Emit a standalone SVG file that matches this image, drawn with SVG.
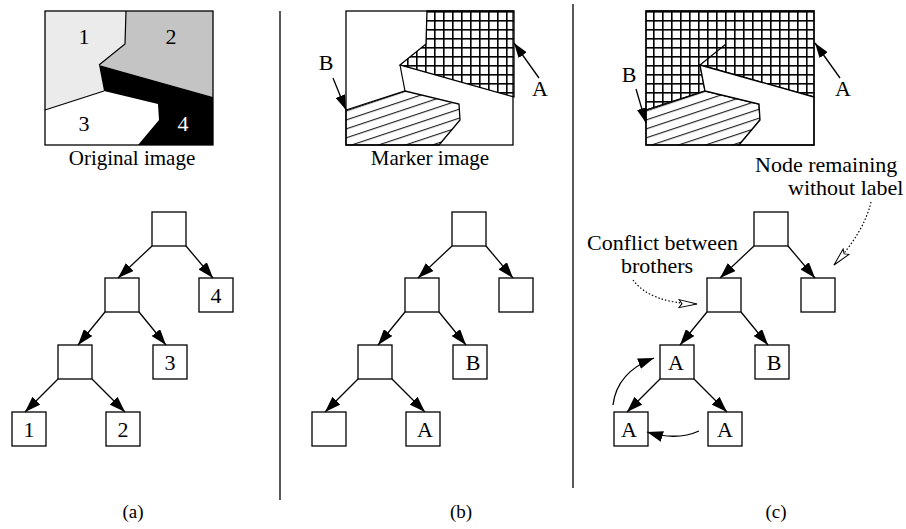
<svg xmlns="http://www.w3.org/2000/svg" width="906" height="529" viewBox="0 0 906 529">
  <style>
    .lbl { font-family: "Liberation Serif", "Times New Roman", serif; font-size: 22px; fill: #000; }
    .mid { text-anchor: middle; }
    .cap { font-family: "Liberation Serif", "Times New Roman", serif; font-size: 21px; fill: #000; text-anchor: middle; }
    .sub { font-family: "Liberation Serif", "Times New Roman", serif; font-size: 19px; fill: #000; text-anchor: middle; }
    .box { fill: #fff; stroke: #000; stroke-width: 1.3; }
    .edge { fill: none; stroke: #000; stroke-width: 1.3; marker-end: url(#head); }
    .pointer { fill: none; stroke: #000; stroke-width: 1.3; marker-end: url(#headSmall); }
    .dotted { fill: none; stroke: #000; stroke-width: 1.2; stroke-dasharray: 1.5 2; marker-end: url(#openHead); }
    .outline { fill: none; stroke: #000; stroke-width: 1.3; }
    .seg { fill: none; stroke: #000; stroke-width: 1.2; }
    .divider { stroke: #000; stroke-width: 1.3; }
  </style>
  <defs>
    <marker id="head" viewBox="0 0 16 11" refX="16" refY="5.5" markerWidth="16" markerHeight="11" markerUnits="userSpaceOnUse" orient="auto">
      <path d="M0,0 L16,5.5 L0,11 z" fill="#000"/>
    </marker>
    <marker id="headSmall" viewBox="0 0 15 10" refX="15" refY="5" markerWidth="15" markerHeight="10" markerUnits="userSpaceOnUse" orient="auto">
      <path d="M0,0 L15,5 L0,10 z" fill="#000"/>
    </marker>
    <marker id="openHead" viewBox="0 0 20 10" refX="19" refY="5" markerWidth="20" markerHeight="10" markerUnits="userSpaceOnUse" orient="auto">
      <path d="M1,1 L19,5 L1,9 L4,5 z" fill="#fff" stroke="#000" stroke-width="1"/>
    </marker>
    <!-- square mesh used for label A (pixel-aligned bars) -->
    <pattern id="grid" x="7" y="2" width="9" height="9" patternUnits="userSpaceOnUse">
      <rect width="9" height="9" fill="#fff"/>
      <rect x="0" y="0" width="9" height="1.6" fill="#000"/>
      <rect x="0" y="0" width="1.6" height="9" fill="#000"/>
    </pattern>
    <!-- diagonal hatching used for label B -->
    <pattern id="hatch" width="20" height="8.5" patternUnits="userSpaceOnUse" patternTransform="rotate(-18.4)">
      <rect width="20" height="8.5" fill="#fff"/>
      <path d="M0,0.6 H20" stroke="#000" stroke-width="1"/>
    </pattern>
    <!-- region shapes shared by the three image panels -->
    <polygon id="reg1" points="45,11 126,11 125,44 99,65 104,91 45,110"/>
    <polygon id="reg2" points="126,11 213,11 213,97 99,65 125,44"/>
    <polygon id="reg3" points="45,110 104,91 158,104 159,120 138,145 45,145"/>
    <polygon id="reg4" points="99,65 213,97 213,145 138,145 159,120 158,104 104,91"/>
  </defs>

  <!-- panel separators -->
  <line class="divider" x1="280" y1="11" x2="280" y2="500"/>
  <line class="divider" x1="573" y1="4" x2="573" y2="488"/>

  <!-- (a) original image -->
  <g id="original-image">
    <use href="#reg1" fill="#ebebeb"/>
    <use href="#reg2" fill="#c4c4c4"/>
    <use href="#reg3" fill="#fff"/>
    <use href="#reg4" fill="#000"/>
    <polyline class="seg" points="126,11 125,44 99,65"/>
    <line class="seg" x1="45" y1="110" x2="104" y2="91"/>
    <rect class="outline" x="45" y="11" width="168" height="134"/>
    <text class="lbl mid" x="84" y="44">1</text>
    <text class="lbl mid" x="171" y="44">2</text>
    <text class="lbl mid" x="84" y="131">3</text>
    <text class="lbl mid" x="183" y="131" style="fill:#fff">4</text>
    <text class="cap" x="132" y="165">Original image</text>
  </g>

  <!-- (b) marker image -->
  <g id="marker-image">
    <g transform="translate(301,0)">
      <rect x="45" y="11" width="168" height="134" fill="#fff"/>
      <use href="#reg2" fill="url(#grid)" stroke="#000" stroke-width="1.3"/>
      <use href="#reg3" fill="url(#hatch)" stroke="#000" stroke-width="1.3"/>
      <line class="seg" x1="99" y1="65" x2="104" y2="91"/>
      <rect class="outline" x="45" y="11" width="167" height="134"/>
    </g>
    <text class="cap" x="430" y="165">Marker image</text>
    <text class="lbl mid" x="326" y="70">B</text>
    <line class="pointer" x1="333" y1="78" x2="346" y2="110"/>
    <text class="lbl mid" x="540" y="96">A</text>
    <line class="pointer" x1="539" y1="78" x2="514" y2="43"/>
  </g>

  <!-- (c) labelled image -->
  <g id="result-image">
    <g transform="translate(601,0)">
      <rect x="45" y="11" width="168" height="134" fill="#fff"/>
      <polygon points="45,11 213,11 213,97 99,65 104,91 45,110" fill="url(#grid)" stroke="#000" stroke-width="1.3"/>
      <use href="#reg3" fill="url(#hatch)" stroke="#000" stroke-width="1.3"/>
      <use href="#reg4" fill="#fff" stroke="#000" stroke-width="1.3"/>
      <line class="seg" x1="99" y1="65" x2="125" y2="44"/>
      <rect class="outline" x="45" y="11" width="168" height="134"/>
    </g>
    <text class="lbl mid" x="629" y="82">B</text>
    <line class="pointer" x1="636" y1="89" x2="646" y2="123"/>
    <text class="lbl mid" x="843" y="96">A</text>
    <line class="pointer" x1="840" y1="78" x2="815" y2="43"/>
  </g>

  <!-- (a) tree -->
  <g id="tree-a">
    <g id="a-root"><rect class="box" x="152" y="212" width="34" height="34"/></g>
    <g id="a-n1"><rect class="box" x="105" y="278" width="34" height="34"/></g>
    <g id="a-n4"><rect class="box" x="199" y="278" width="34" height="34"/><text class="lbl mid" x="216" y="303">4</text></g>
    <g id="a-n2"><rect class="box" x="58" y="345" width="34" height="34"/></g>
    <g id="a-n3"><rect class="box" x="153" y="345" width="34" height="34"/><text class="lbl mid" x="170" y="370">3</text></g>
    <g id="a-l1"><rect class="box" x="12" y="412" width="34" height="34"/><text class="lbl mid" x="29" y="437">1</text></g>
    <g id="a-l2"><rect class="box" x="106" y="412" width="34" height="34"/><text class="lbl mid" x="123" y="437">2</text></g>
  </g>

  <!-- (b) tree -->
  <g id="tree-b">
    <g id="b-root"><rect class="box" x="452" y="212" width="34" height="34"/></g>
    <g id="b-n1"><rect class="box" x="405" y="278" width="34" height="34"/></g>
    <g id="b-n4"><rect class="box" x="499" y="278" width="34" height="34"/></g>
    <g id="b-n2"><rect class="box" x="358" y="345" width="34" height="34"/></g>
    <g id="b-n3"><rect class="box" x="453" y="345" width="34" height="34"/><text class="lbl mid" x="473" y="370">B</text></g>
    <g id="b-l1"><rect class="box" x="312" y="412" width="34" height="34"/></g>
    <g id="b-l2"><rect class="box" x="406" y="412" width="34" height="34"/><text class="lbl mid" x="425" y="437">A</text></g>
  </g>

  <!-- (c) tree -->
  <g id="tree-c">
    <g id="c-root"><rect class="box" x="754" y="212" width="34" height="34"/></g>
    <g id="c-n1"><rect class="box" x="707" y="278" width="34" height="34"/></g>
    <g id="c-n4"><rect class="box" x="801" y="278" width="34" height="34"/></g>
    <g id="c-n2"><rect class="box" x="660" y="345" width="34" height="34"/><text class="lbl mid" x="676" y="370">A</text></g>
    <g id="c-n3"><rect class="box" x="755" y="345" width="34" height="34"/><text class="lbl mid" x="774" y="370">B</text></g>
    <g id="c-l1"><rect class="box" x="614" y="412" width="34" height="34"/><text class="lbl mid" x="629" y="437">A</text></g>
    <g id="c-l2"><rect class="box" x="708" y="412" width="34" height="34"/><text class="lbl mid" x="725" y="437">A</text></g>
  </g>

  <!-- annotations -->
  <g id="note-unlabelled">
    <text class="lbl" x="755" y="172">Node remaining</text>
    <text class="lbl" x="788" y="195">without label</text>
  </g>
  <g id="note-conflict">
    <text class="lbl" x="587" y="250">Conflict between</text>
    <text class="lbl" x="621" y="273">brothers</text>
  </g>

  <!-- connectors -->
  <g id="connectors">
    <line class="edge" x1="152" y1="246" x2="118" y2="278"/>
    <line class="edge" x1="186" y1="246" x2="213" y2="278"/>
    <line class="edge" x1="105" y1="312" x2="78" y2="345"/>
    <line class="edge" x1="139" y1="312" x2="166" y2="345"/>
    <line class="edge" x1="58" y1="379" x2="25" y2="412"/>
    <line class="edge" x1="92" y1="379" x2="125" y2="412"/>

    <line class="edge" x1="452" y1="246" x2="418" y2="278"/>
    <line class="edge" x1="486" y1="246" x2="513" y2="278"/>
    <line class="edge" x1="405" y1="312" x2="378" y2="345"/>
    <line class="edge" x1="439" y1="312" x2="466" y2="345"/>
    <line class="edge" x1="358" y1="379" x2="325" y2="412"/>
    <line class="edge" x1="392" y1="379" x2="425" y2="412"/>

    <line class="edge" x1="754" y1="246" x2="720" y2="278"/>
    <line class="edge" x1="788" y1="246" x2="815" y2="278"/>
    <line class="edge" x1="707" y1="312" x2="680" y2="345"/>
    <line class="edge" x1="741" y1="312" x2="768" y2="345"/>
    <line class="edge" x1="660" y1="379" x2="627" y2="412"/>
    <line class="edge" x1="694" y1="379" x2="727" y2="412"/>

    <path class="edge" d="M613,405 Q617,372 654,358"/>
    <path class="edge" d="M699,431 Q677,441 647,432"/>

    <path class="dotted" d="M871,202 Q864,232 834,265"/>
    <path class="dotted" d="M633,280 Q650,303 697,304"/>
  </g>

  <!-- sub-figure captions -->
  <text class="sub" x="133" y="518">(a)</text>
  <text class="sub" x="461" y="518">(b)</text>
  <text class="sub" x="776" y="518">(c)</text>
</svg>
